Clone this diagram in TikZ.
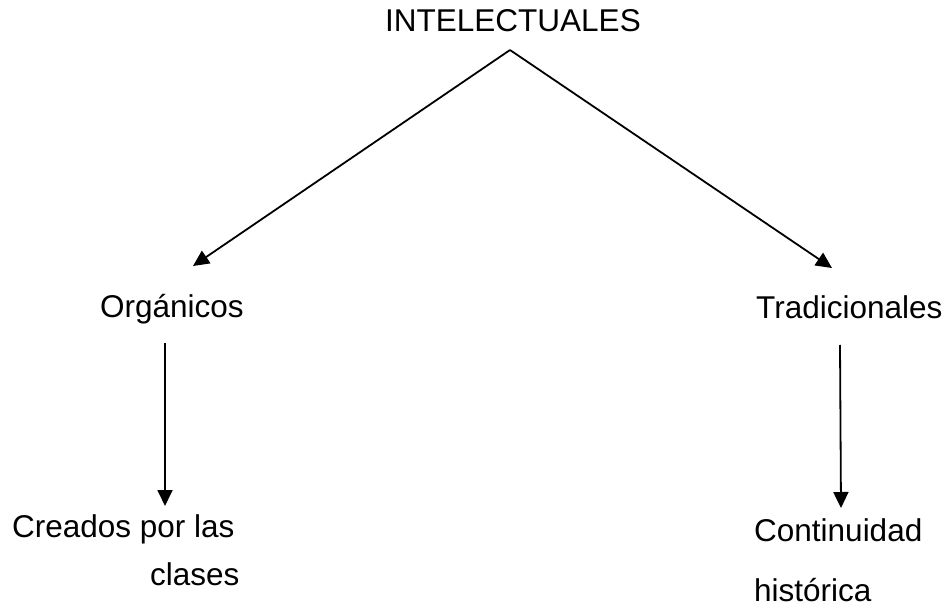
\documentclass[tikz,border=0pt]{standalone}
\usepackage{fontspec}
\setmainfont{Liberation Sans}
\usetikzlibrary{arrows.meta}

\begin{document}
\begin{tikzpicture}[x=1pt, y=-1pt]
    \tikzstyle{label} = [anchor=base west, inner sep=0pt, font=\fontsize{31.5}{38}\selectfont]
    \tikzstyle{link} = [line width=1.8pt, -{Triangle[length=16pt, width=15pt]}]

    % Page frame
    \useasboundingbox (0,0) rectangle (951,612);

    % Title and the two branches
    \node[label] (intel) at (385,32) {INTELECTUALES};
    \node[label] (org) at (100,318) {Orgánicos};
    \node[label] (trad) at (756,319) {Tradicionales};

    % Lower texts
    \node[label] (creados) at (12,537) {Creados por las};
    \node[label] (clases) at (150,585) {clases};
    \node[label] (contin) at (754,541) {Continuidad};
    \node[label] (histor) at (754,601) {histórica};

    % Ends of the connectors
    \coordinate (apex) at (510,50);
    \coordinate (orgtip) at (193,266);
    \coordinate (tradtip) at (832,268);
    \coordinate (orgtop) at (165,343);
    \coordinate (orgend) at (165,506);
    \coordinate (tradtop) at (840,345);
    \coordinate (tradend) at (841,508);

    % Connectors
    \draw[link] (apex) -- (orgtip);
    \draw[link] (apex) -- (tradtip);
    \draw[link] (orgtop) -- (orgend);
    \draw[link] (tradtop) -- (tradend);
\end{tikzpicture}
\end{document}
